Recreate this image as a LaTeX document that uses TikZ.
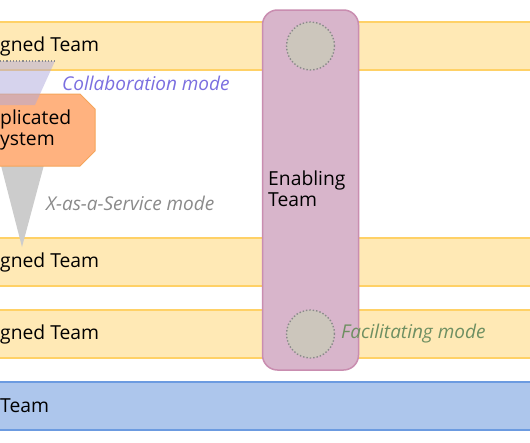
\documentclass[tikz,border=0pt]{standalone}
\usepackage{fontspec}
\setmainfont{Open Sans}
\usepackage{tikz}

\definecolor{streamfill}{HTML}{FFE9B5}
\definecolor{streamline}{HTML}{FFD166}
\definecolor{platfill}{HTML}{ADC6EC}
\definecolor{platline}{HTML}{6C9BE0}
\definecolor{enablefill}{HTML}{D8B5CB}
\definecolor{enableline}{HTML}{C98DB0}
\definecolor{subfill}{HTML}{FFB27F}
\definecolor{subline}{HTML}{F5A55A}
\definecolor{facfill}{HTML}{CCC6BC}
\definecolor{collabfill}{HTML}{AFA9DD}
\definecolor{collabcol}{HTML}{7B6FE0}
\definecolor{xaascol}{HTML}{8A8A8A}
\definecolor{faccol}{HTML}{6E8F62}

\begin{document}
\begin{tikzpicture}[
    x=1pt, y=-1pt,
    band/.style={rectangle, draw=#1, line width=1.5pt, minimum width=600pt, minimum height=48pt, inner sep=0pt},
    label/.style={anchor=west, inner sep=0pt, font=\fontsize{19.3}{20.5}\selectfont},
    mode/.style={anchor=west, inner sep=0pt, font=\fontsize{19}{20}\selectfont\itshape, text=#1},
    spot/.style={circle, fill=facfill, draw=xaascol, dotted, line width=1.4pt, minimum size=48pt, inner sep=0pt}
]
    \clip (0,0) rectangle (530,442);
    \fill[white] (0,0) rectangle (530,442);

    % Team bands
    \node[band=streamline, fill=streamfill] (S1) at (265,46) {};
    \node[band=streamline, fill=streamfill] (S2) at (265,262) {};
    \node[band=streamline, fill=streamfill] (S3) at (265,334) {};
    \node[band=platline, fill=platfill] (P) at (265,406) {};
    \node[label] (S1t) at (0,46) {gned Team};
    \node[label] (S2t) at (0,262) {gned Team};
    \node[label] (S3t) at (0,334) {gned Team};
    \node[label] (Pt) at (0,406) {Team};

    % X-as-a-Service
    \fill[black!20] (-3,150) -- (48,150) -- (22,247) -- cycle;

    % Complicated subsystem
    \draw[subline, fill=subfill, line width=1pt] (-60,94) -- (80,94) -- (95,109) -- (95,151) -- (80,166) -- (-60,166) -- cycle;
    \node[label, align=left] (C) at (0,130) {plicated\\ystem};

    % Collaboration overlap
    \fill[collabfill, opacity=0.5] (-20,61) -- (55,61) -- (35,105) -- (-20,105) -- cycle;
    \draw[xaascol, dotted, line width=1.2pt] (0,61) -- (55,61);

    % Enabling team
    \node[rectangle, rounded corners=15pt, draw=enableline, fill=enablefill, line width=1.5pt, minimum width=96pt, minimum height=360pt] (E) at (310.5,190) {};
    \node[label, align=left] (Et) at (268,189) {Enabling\\Team};
    \node[spot] (F1) at (310.5,46) {};
    \node[spot] (F2) at (310.5,334) {};

    % Interaction modes
    \node[mode=collabcol] (Cm) at (62,83) {Collaboration mode};
    \node[mode=xaascol] (Xm) at (46,203) {X-as-a-Service mode};
    \node[mode=faccol] (Fm) at (341,334) {Facilitating mode};
\end{tikzpicture}
\end{document}
